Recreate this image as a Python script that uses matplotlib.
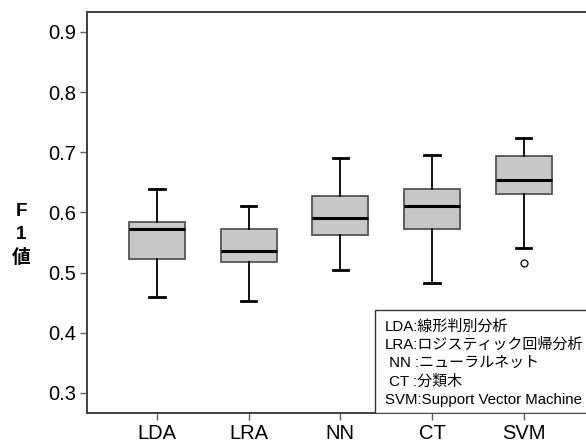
import matplotlib.pyplot as plt
from matplotlib.patches import Rectangle

plt.rcParams['font.family'] = ['Liberation Sans', 'Noto Sans CJK JP', 'DejaVu Sans']

# Box statistics
methods = ['LDA', 'LRA', 'NN', 'CT', 'SVM']
whisker_low = [0.460, 0.452, 0.505, 0.483, 0.541]
q1 = [0.522, 0.518, 0.563, 0.572, 0.630]
median = [0.572, 0.536, 0.591, 0.610, 0.654]
q3 = [0.584, 0.573, 0.628, 0.639, 0.694]
whisker_high = [0.639, 0.611, 0.691, 0.696, 0.723]
outliers = [[], [], [], [], [0.515]]

legend_lines = ['LDA:線形判別分析', 'LRA:ロジスティック回帰分析', ' NN :ニューラルネット',
                ' CT :分類木', 'SVM:Support Vector Machine']

stats = []
for i in range(len(methods)):
    stats.append({'label': methods[i], 'whislo': whisker_low[i], 'q1': q1[i],
                  'med': median[i], 'q3': q3[i], 'whishi': whisker_high[i],
                  'fliers': outliers[i]})

W, H = 586, 445
fig = plt.figure(figsize=(5.86, 4.45), dpi=100)
ax = fig.add_axes([87 / W, 1 - 412.7 / H, 1 - 87 / W, (412.7 - 12) / H])

ax.bxp(stats, widths=0.61, patch_artist=True,
       boxprops=dict(facecolor='#c8c8c8', edgecolor='#555555', linewidth=1.3),
       medianprops=dict(color='black', linewidth=2.2),
       whiskerprops=dict(color='black', linewidth=1.3),
       capprops=dict(color='black', linewidth=2.0),
       flierprops=dict(marker='o', markersize=5, markerfacecolor='white',
                       markeredgecolor='black', markeredgewidth=0.9),
       capwidths=0.17)

ax.set_xlim(0.237, 5.68)
ax.set_ylim(0.267, 0.933)
ax.set_yticks([0.3, 0.4, 0.5, 0.6, 0.7, 0.8, 0.9])
ax.set_yticklabels(['0.3', '0.4', '0.5', '0.6', '0.7', '0.8', '0.9'])

for s in ['left', 'bottom', 'top']:
    ax.spines[s].set_color('#404040')
    ax.spines[s].set_linewidth(1.4)
ax.spines['right'].set_visible(False)
ax.tick_params(axis='both', length=5, width=1.0, color='#606060',
               labelsize=14.5, labelcolor='black', pad=3)

# Vertical y label: F / 1 / 値
for ch, yc in zip(['F', '1', '値'], [212, 235, 258]):
    fig.text(21 / W, 1 - yc / H, ch, ha='center', va='center', fontsize=13.5,
             fontweight='bold')

# Legend box with abbreviations
ax.add_patch(Rectangle((375 / W, 1 - 412.7 / H), 0.5, (412.7 - 310) / H,
                       transform=fig.transFigure, facecolor='white',
                       edgecolor='#333333', linewidth=1.0, zorder=5))
for i, line in enumerate(legend_lines):
    fig.text(385 / W, 1 - (326.7 + i * 18.3) / H, line, ha='left', va='center',
             fontsize=10.8, zorder=6)

fig.savefig('out.png', dpi=100)
